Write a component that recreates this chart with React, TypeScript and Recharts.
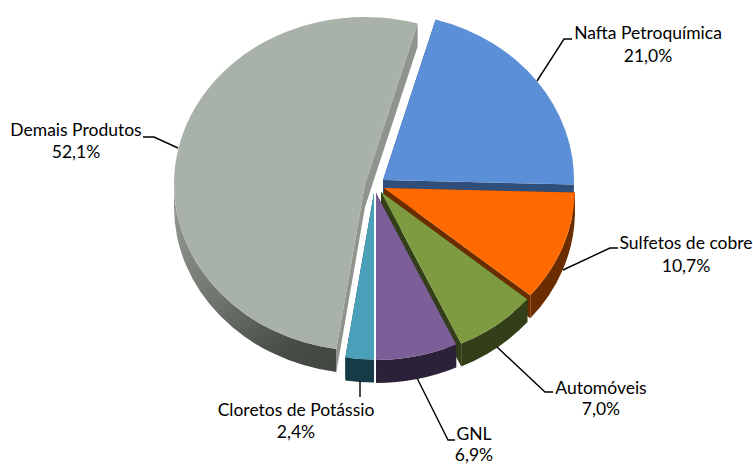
import React from "react";
import { PieChart, Pie } from "recharts";

const categories = ["Nafta Petroquímica", "Sulfetos de cobre", "Automóveis", "GNL", "Cloretos de Potássio", "Demais Produtos"];
const values = [21.0, 10.7, 7.0, 6.9, 2.4, 52.1];
const valueLabels = ["21,0%", "10,7%", "7,0%", "6,9%", "2,4%", "52,1%"];
const topColors = ["#5b90d8", "#ff6a00", "#7f9b42", "#7c5f98", "#49a0b8", "#a9b2a8"];
const wallColors = ["#2f4e7a", "#6b2d00", "#333f18", "#2b2138", "#163b47", "url(#grayWall)"];
const faceColors = ["#2f4e7a", "#6b2d00", "#333f18", "#2b2138", "#163b47", "#8f958c"];

// Presentation only: how far each slice is pulled out, and where its callout sits.
const explode = [[8, -7], [9, 1], [6, 5], [1, 6], [-1, 5.5], [-10, -3]];
const leaders = [
  [[537, 81], [564, 39], [572, 39]],
  [[563, 270], [610, 248], [618, 248]],
  [[497, 347], [545, 392], [553, 392]],
  [[417, 378], [448, 440], [455, 440]],
  [[360, 381], [360, 397]],
  [[178, 148], [154, 137], [143, 137]],
];
const labelPos = [[648, 34.5, 58], [686, 244.5, 268], [601, 389.5, 410.5], [474, 436, 457], [296, 412, 433.5], [76, 131.5, 154]];

const CX = 375;
const CY = 187;
const RX = 191;
const RY = 167;
const DEPTH = 23;
const FONT = "Lato, 'Open Sans', sans-serif";

const data = categories.map((name, i) => ({ name, value: values[i] }));

function Slice(props: any) {
  const i: number = props.index ?? categories.indexOf(props.name);
  const [dx, dy] = explode[i];
  const x0 = props.cx + dx;
  const y0 = props.cy + dy;
  const rx = props.outerRadius;
  const ry = (rx * RY) / RX;
  const t0 = ((90 - props.startAngle) * Math.PI) / 180;
  const t1 = ((90 - props.endAngle) * Math.PI) / 180;
  const pt = (t: number, off = 0) => [x0 + rx * Math.sin(t), y0 - ry * Math.cos(t) + off];
  const [ax, ay] = pt(t0);
  const [bx, by] = pt(t1);
  const large = t1 - t0 > Math.PI ? 1 : 0;
  const top = `M${x0},${y0} L${ax},${ay} A${rx},${ry} 0 ${large} 1 ${bx},${by} Z`;
  const faceA = `M${x0},${y0} L${ax},${ay} L${ax},${ay + DEPTH} L${x0},${y0 + DEPTH} Z`;
  const faceB = `M${x0},${y0} L${bx},${by} L${bx},${by + DEPTH} L${x0},${y0 + DEPTH} Z`;
  // Outer wall: only the part of the rim that faces the viewer (lower half).
  const lo = Math.max(t0, Math.PI / 2);
  const hi = Math.min(t1, (3 * Math.PI) / 2);
  let wall = "";
  if (hi > lo) {
    const [p, q] = pt(lo);
    const [r, s] = pt(hi);
    wall = `M${p},${q} A${rx},${ry} 0 0 1 ${r},${s} L${r},${s + DEPTH} A${rx},${ry} 0 0 0 ${p},${q + DEPTH} Z`;
  }
  return (
    <g>
      {i === 5 && (
        <defs>
          <linearGradient id="grayWall" gradientUnits="userSpaceOnUse" x1="174" y1="190" x2="340" y2="365">
            <stop offset="0" stopColor="#979d95" />
            <stop offset="0.45" stopColor="#6f746d" />
            <stop offset="0.8" stopColor="#484c47" />
            <stop offset="1" stopColor="#434741" />
          </linearGradient>
        </defs>
      )}
      <path d={faceA} fill={faceColors[i]} />
      <path d={faceB} fill={faceColors[i]} />
      {wall && <path d={wall} fill={wallColors[i]} />}
      <path d={top} fill={topColors[i]} />
    </g>
  );
}

function Callout(props: any) {
  const i: number = props.index;
  const [x, y1, y2] = labelPos[i];
  const style = { fontFamily: FONT, fontSize: 17.5, fill: "#000" };
  return (
    <g>
      <polyline points={leaders[i].map((p) => p.join(",")).join(" ")} fill="none" stroke="#000" strokeWidth={1.4} />
      <text x={x} y={y1} textAnchor="middle" dominantBaseline="middle" style={style}>{categories[i]}</text>
      <text x={x} y={y2} textAnchor="middle" dominantBaseline="middle" style={style}>{valueLabels[i]}</text>
    </g>
  );
}

export default function App() {
  return (
    <div style={{ position: "absolute", left: 0, top: 0, width: 753, height: 464 }}>
      <PieChart width={753} height={464} margin={{ top: 0, right: 0, bottom: 0, left: 0 }}>
        <Pie
          data={data}
          dataKey="value"
          nameKey="name"
          cx={CX}
          cy={CY}
          innerRadius={0}
          outerRadius={RX}
          startAngle={74}
          endAngle={-286}
          stroke="none"
          isAnimationActive={false}
          shape={Slice}
          label={Callout}
          labelLine={false}
        />
      </PieChart>
    </div>
  );
}
